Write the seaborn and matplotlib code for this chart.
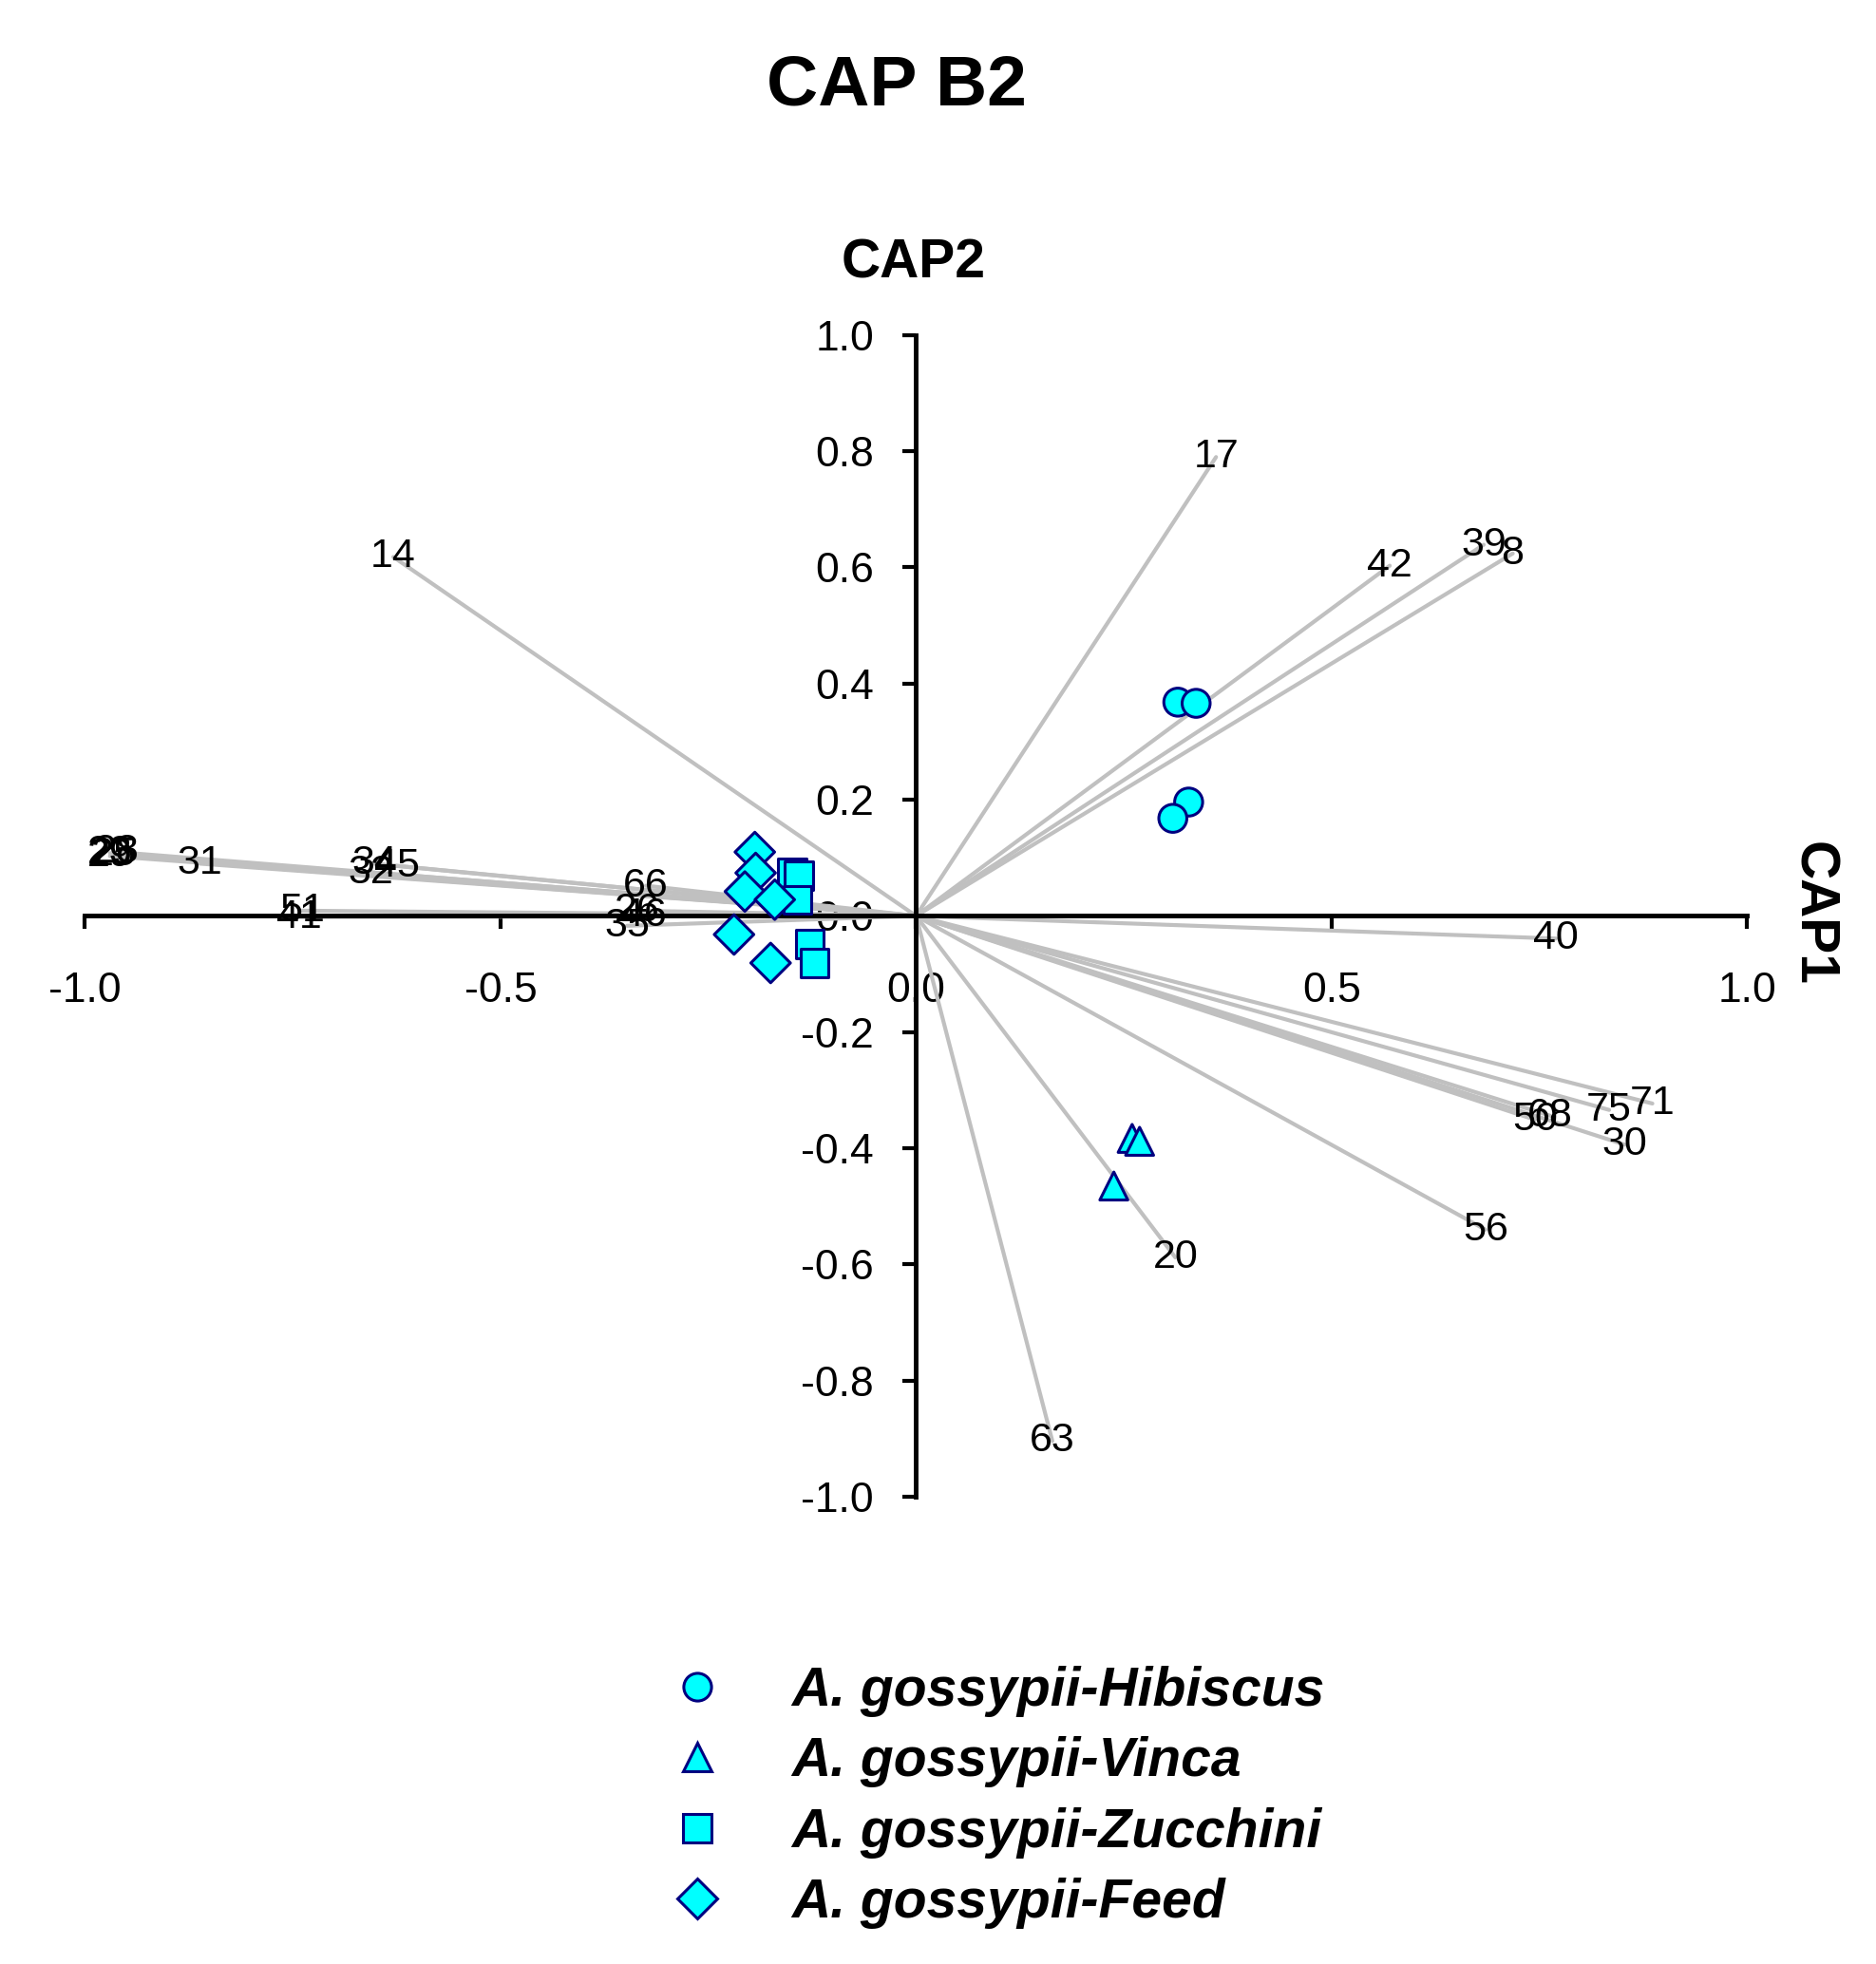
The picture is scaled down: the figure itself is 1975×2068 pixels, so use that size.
import numpy as np
import pandas as pd
import matplotlib
matplotlib.use("Agg")
import matplotlib.pyplot as plt
from matplotlib.lines import Line2D
import seaborn as sns

# sample scores (CAP1, CAP2)
hibiscus_x = [0.315, 0.337, 0.328, 0.309]
hibiscus_y = [0.368, 0.366, 0.196, 0.168]
vinca_x = [0.260, 0.269, 0.238]
vinca_y = [-0.383, -0.388, -0.465]
zucchini_x = [-0.149, -0.141, -0.143, -0.128, -0.122]
zucchini_y = [0.074, 0.069, 0.028, -0.048, -0.081]
feed_x = [-0.194, -0.193, -0.206, -0.170, -0.219, -0.175]
feed_y = [0.110, 0.074, 0.042, 0.028, -0.032, -0.081]

group_names = ["A. gossypii-Hibiscus", "A. gossypii-Vinca",
               "A. gossypii-Zucchini", "A. gossypii-Feed"]

# vector end points and their labels
vec_labels = ["23", "25", "28", "29", "31", "32", "34", "45", "51", "41",
              "14", "66", "26", "46", "35",
              "17", "42", "39", "8", "40", "71", "75", "30", "50", "68",
              "56", "20", "63"]
vec_x = [-0.970, -0.965, -0.962, -0.970, -0.862, -0.656, -0.652, -0.625, -0.739, -0.742,
         -0.629, -0.325, -0.336, -0.328, -0.348,
         0.361, 0.570, 0.683, 0.718, 0.770, 0.886, 0.834, 0.853, 0.745, 0.763,
         0.685, 0.312, 0.164]
vec_y = [0.108, 0.105, 0.110, 0.103, 0.090, 0.075, 0.090, 0.086, 0.009, -0.002,
         0.618, 0.052, 0.009, 0.000, -0.017,
         0.790, 0.603, 0.639, 0.624, -0.039, -0.323, -0.334, -0.394, -0.351, -0.344,
         -0.540, -0.588, -0.904]

ticks = [-1.0, -0.5, 0.0, 0.5, 1.0]
yticks = [-1.0, -0.8, -0.6, -0.4, -0.2, 0.0, 0.2, 0.4, 0.6, 0.8, 1.0]

sns.set_style("white")
plt.rcParams["font.family"] = ["Liberation Sans", "DejaVu Sans"]
plt.rcParams["text.color"] = "black"
plt.rcParams["xtick.color"] = "black"
plt.rcParams["ytick.color"] = "black"

df = pd.DataFrame({
    "CAP1": hibiscus_x + vinca_x + zucchini_x + feed_x,
    "CAP2": hibiscus_y + vinca_y + zucchini_y + feed_y,
    "group": [group_names[0]] * len(hibiscus_x) + [group_names[1]] * len(vinca_x)
             + [group_names[2]] * len(zucchini_x) + [group_names[3]] * len(feed_x),
})
markers = {group_names[0]: "o", group_names[1]: "^",
           group_names[2]: "s", group_names[3]: "D"}

fig = plt.figure(figsize=(19.75, 20.68), dpi=100)
ax = fig.add_axes([0.0453, 0.2379, 0.886, 0.5915])

# vectors
for lab, x, y in zip(vec_labels, vec_x, vec_y):
    ax.plot([0, x], [0, y], color="#C0C0C0", lw=3, zorder=1)

sns.scatterplot(data=df, x="CAP1", y="CAP2", style="group", markers=markers,
                color="#00FFFF", edgecolor="#000080", linewidth=2.2, s=450,
                legend=False, ax=ax, zorder=3)

for lab, x, y in zip(vec_labels, vec_x, vec_y):
    ax.text(x, y, lab, fontsize=31, ha="center", va="center", zorder=4, clip_on=False)

ax.set_xlim(-1, 1)
ax.set_ylim(-1, 1)
for s in ["top", "right"]:
    ax.spines[s].set_visible(False)
ax.spines["left"].set_position(("data", 0))
ax.spines["bottom"].set_position(("data", 0))
for s in ["left", "bottom"]:
    ax.spines[s].set_linewidth(3.5)
    ax.spines[s].set_color("black")
    ax.spines[s].set_zorder(2)

ax.set_xticks(ticks)
ax.set_xticklabels([f"{t:.1f}" for t in ticks])
ax.set_yticks(yticks)
ax.set_yticklabels([f"{t:.1f}" for t in yticks])
ax.tick_params(axis="x", bottom=True, direction="out", length=10, width=3,
               pad=32, labelsize=32)
ax.tick_params(axis="y", left=True, direction="out", length=10, width=3,
               pad=22, labelsize=32)
ax.set_xlabel("")
ax.set_ylabel("")

fig.text(0.478, 0.956, "CAP B2", fontsize=54, fontweight="bold", ha="center", va="center")
fig.text(0.487, 0.866, "CAP2", fontsize=41, fontweight="bold", ha="center", va="center")
fig.text(0.966, 0.535, "CAP1", fontsize=41, fontweight="bold", ha="center", va="center",
         rotation=-90)

handles = [Line2D([], [], linestyle="none", marker=markers[g], markersize=21,
                  markerfacecolor="#00FFFF", markeredgecolor="#000080",
                  markeredgewidth=2.2) for g in group_names]
fig.legend(handles, group_names, loc="upper left", bbox_to_anchor=(0.357, 0.152),
           frameon=False, handlelength=1, handletextpad=1.25, labelspacing=0.36,
           borderpad=0, borderaxespad=0,
           prop={"size": 41, "weight": "bold", "style": "italic"})

fig.savefig("out.png", dpi=100)
